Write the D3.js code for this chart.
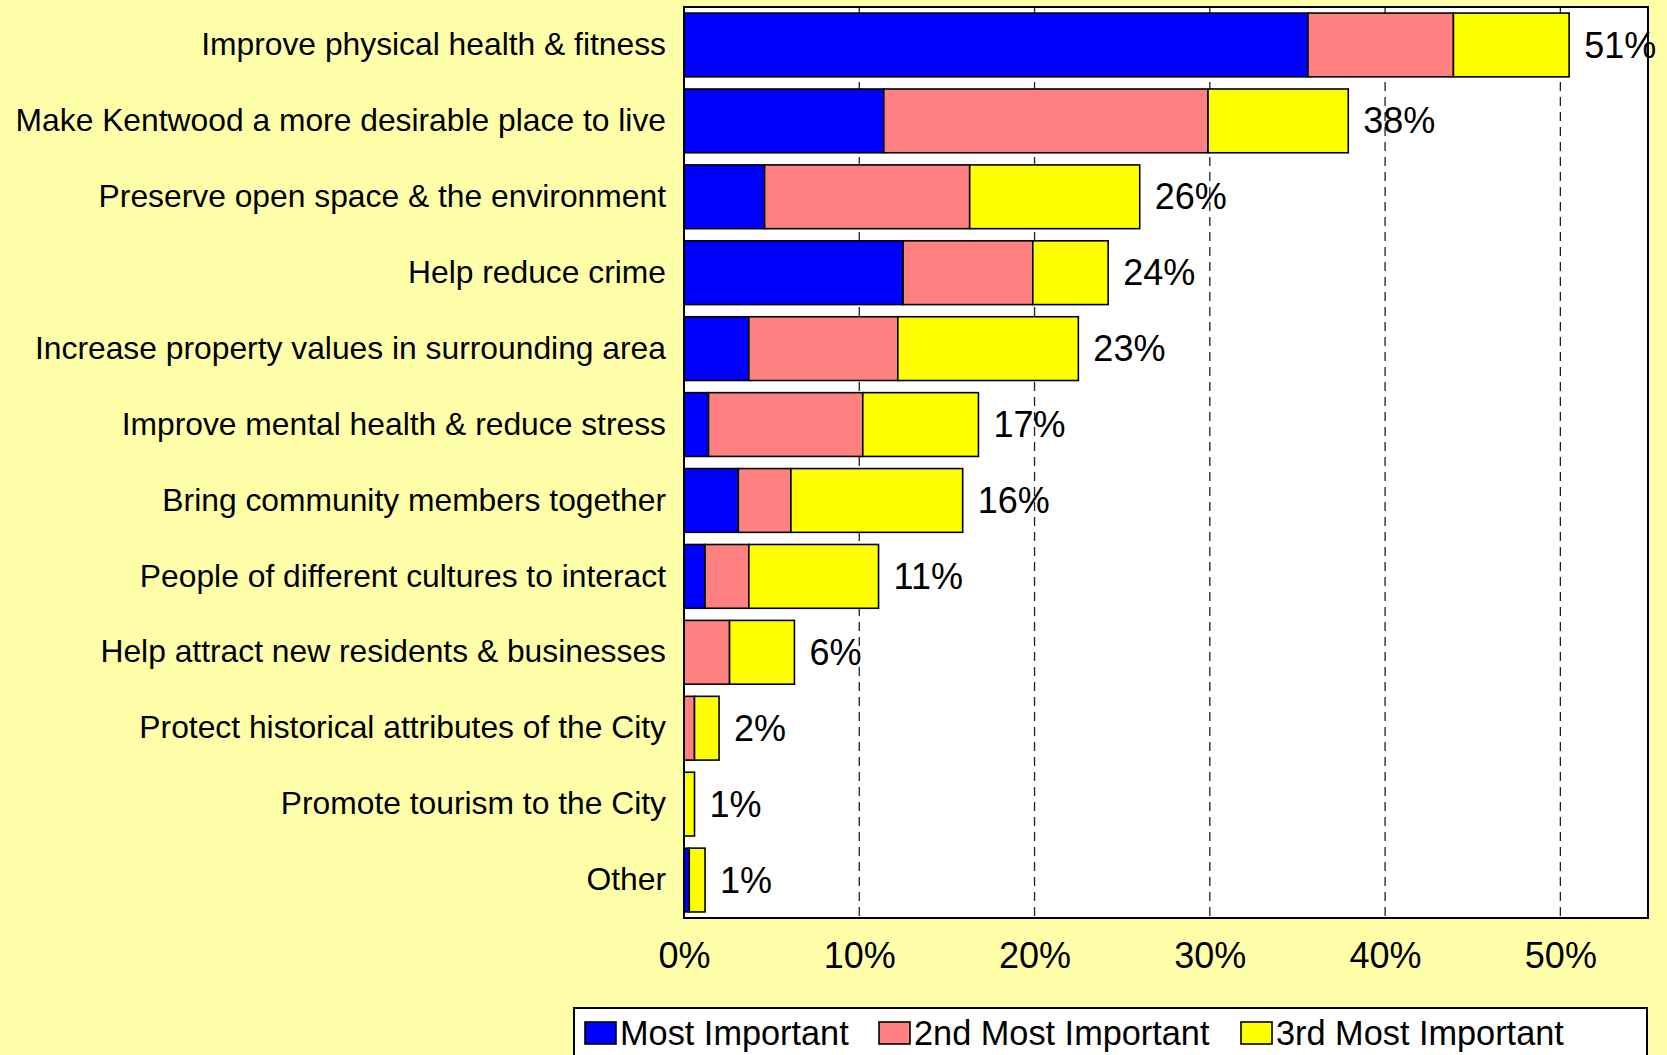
<!DOCTYPE html>
<html>
<head>
<meta charset="utf-8">
<script src="https://cdn.jsdelivr.net/npm/d3@7"></script>
<style>
  body { margin: 0; background: #ffffaa; }
  svg { display: block; }
  text { font-family: "Liberation Sans", Arial, sans-serif; fill: #000; }
</style>
</head>
<body>
<div id="chart"></div>
<script>
// categories, top to bottom
var categories = [
  "Improve physical health & fitness",
  "Make Kentwood a more desirable place to live",
  "Preserve open space & the environment",
  "Help reduce crime",
  "Increase property values in surrounding area",
  "Improve mental health & reduce stress",
  "Bring community members together",
  "People of different cultures to interact",
  "Help attract new residents & businesses",
  "Protect historical attributes of the City",
  "Promote tourism to the City",
  "Other"
];

// percent values per series
var mostImportant   = [35.6, 11.4, 4.6, 12.5, 3.7, 1.4, 3.1, 1.2, 0,   0,   0,   0.3];
var secondImportant = [8.3, 18.5, 11.7, 7.4,  8.5, 8.8, 3.0, 2.5, 2.6, 0.6, 0,   0];
var thirdImportant  = [6.6,  8.0,  9.7, 4.3, 10.3, 6.6, 9.8, 7.4, 3.7, 1.4, 0.6, 0.9];
var totalLabels = ["51%", "38%", "26%", "24%", "23%", "17%", "16%", "11%", "6%", "2%", "1%", "1%"];

var seriesNames = ["Most Important", "2nd Most Important", "3rd Most Important"];
var seriesColors = ["#0000ff", "#ff8080", "#ffff00"];
var xTicks = [0, 10, 20, 30, 40, 50];

var W = 1667, H = 1055;
var plot = {left: 684, right: 1648, top: 7, bottom: 918};

var svg = d3.select("#chart").append("svg")
    .attr("width", W)
    .attr("height", H);

svg.append("rect")
    .attr("width", W).attr("height", H)
    .attr("fill", "#ffffaa");

var x = d3.scaleLinear()
    .domain([0, 55])
    .range([plot.left, plot.right]);

var y = d3.scaleBand()
    .domain(categories)
    .range([plot.top, plot.bottom])
    .paddingInner(0.16)
    .paddingOuter(0.08);

// plot area
svg.append("rect")
    .attr("x", plot.left).attr("y", plot.top)
    .attr("width", plot.right - plot.left)
    .attr("height", plot.bottom - plot.top)
    .attr("fill", "#fff");

// dashed grid
svg.append("g").selectAll("line")
    .data(xTicks.slice(1))
    .enter().append("line")
    .attr("x1", function(d) { return x(d); })
    .attr("x2", function(d) { return x(d); })
    .attr("y1", plot.top)
    .attr("y2", plot.bottom)
    .attr("stroke", "#222")
    .attr("stroke-width", 1.3)
    .attr("stroke-dasharray", "9,6");

// stack the series
var rows = categories.map(function(c, i) {
  return {cat: c, s0: mostImportant[i], s1: secondImportant[i], s2: thirdImportant[i]};
});
var stack = d3.stack().keys(["s0", "s1", "s2"]);
var layers = stack(rows);

svg.append("g").selectAll("g")
    .data(layers)
    .enter().append("g")
    .attr("fill", function(d, i) { return seriesColors[i]; })
    .selectAll("rect")
    .data(function(d) { return d.filter(function(p) { return p[1] - p[0] > 0; }); })
    .enter().append("rect")
    .attr("x", function(d) { return x(d[0]); })
    .attr("y", function(d) { return y(d.data.cat); })
    .attr("width", function(d) { return x(d[1]) - x(d[0]); })
    .attr("height", y.bandwidth())
    .attr("stroke", "#000")
    .attr("stroke-width", 1.6);

// plot border
svg.append("rect")
    .attr("x", plot.left).attr("y", plot.top)
    .attr("width", plot.right - plot.left)
    .attr("height", plot.bottom - plot.top)
    .attr("fill", "none")
    .attr("stroke", "#000")
    .attr("stroke-width", 2);

// totals at bar ends
svg.append("g").selectAll("text")
    .data(rows)
    .enter().append("text")
    .attr("x", function(d) { return x(d.s0 + d.s1 + d.s2) + 15; })
    .attr("y", function(d) { return y(d.cat) + y.bandwidth() / 2; })
    .attr("dy", "0.35em")
    .attr("font-size", 36)
    .text(function(d, i) { return totalLabels[i]; });

// category labels
var yAxis = d3.axisLeft(y).tickSize(0).tickPadding(18);
var gy = svg.append("g")
    .attr("transform", "translate(" + plot.left + ",0)")
    .call(yAxis);
gy.select(".domain").remove();
gy.selectAll("text")
    .attr("font-size", 31.8)
    .attr("font-family", "Liberation Sans, Arial, sans-serif")
    .attr("fill", "#000");

// x axis labels
var xAxis = d3.axisBottom(x)
    .tickValues(xTicks)
    .tickSize(0)
    .tickPadding(24)
    .tickFormat(function(d) { return d + "%"; });
var gx = svg.append("g")
    .attr("transform", "translate(0," + plot.bottom + ")")
    .call(xAxis);
gx.select(".domain").remove();
gx.selectAll("text")
    .attr("font-size", 36)
    .attr("font-family", "Liberation Sans, Arial, sans-serif")
    .attr("fill", "#000");

// legend
var legend = svg.append("g");
legend.append("rect")
    .attr("x", 574).attr("y", 1008)
    .attr("width", 1647 - 574).attr("height", 60)
    .attr("fill", "#fff")
    .attr("stroke", "#000")
    .attr("stroke-width", 2);

var legendX = [585, 879, 1241];
var items = legend.selectAll("g.item")
    .data(seriesNames)
    .enter().append("g")
    .attr("class", "item")
    .attr("transform", function(d, i) { return "translate(" + legendX[i] + ",1022)"; });
items.append("rect")
    .attr("width", 31).attr("height", 22)
    .attr("fill", function(d, i) { return seriesColors[i]; })
    .attr("stroke", "#000")
    .attr("stroke-width", 1.6);
items.append("text")
    .attr("x", 35)
    .attr("y", 23)
    .attr("font-size", 34.3)
    .text(function(d) { return d; });
</script>
</body>
</html>
